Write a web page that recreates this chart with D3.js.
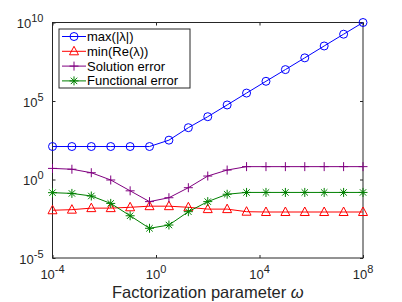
<!DOCTYPE html>
<html>
<head>
<meta charset="utf-8">
<script src="https://cdn.jsdelivr.net/npm/d3@7"></script>
<style>
body{margin:0;background:#fff;}
svg{font-family:"Liberation Sans",Arial,sans-serif;}
</style>
</head>
<body>
<div id="ChartPart"></div>
<script>
//Data--------------------------------------------------------------------------------------
var omega = [1e-4,5.62e-4,3.16e-3,1.78e-2,1e-1,5.62e-1,3.16,1.78e1,1e2,5.62e2,3.16e3,1.78e4,1e5,5.62e5,3.16e6,1.78e7,1e8];
var maxLambda = [1.26e2,1.26e2,1.26e2,1.26e2,1.26e2,1.26e2,3.2e2,2.0e3,1.0e4,5.6e4,3.2e5,1.8e6,1.0e7,5.6e7,3.2e8,1.8e9,1.0e10];
var minReLambda = [1.1e-2,1.2e-2,1.5e-2,1.5e-2,1.7e-2,2.0e-2,2.0e-2,1.7e-2,1.3e-2,1.3e-2,8.9e-3,8.5e-3,8.5e-3,8.5e-3,8.5e-3,8.5e-3,8.5e-3];
var solutionError = [5.1,4.5,2.7,0.93,0.19,3.9e-2,6.9e-2,0.30,1.66,4.0,6.6,6.6,6.6,6.6,6.6,6.6,6.6];
var functionalError = [0.145,0.13,0.089,0.030,4.9e-3,7.8e-4,1.26e-3,8.9e-3,3.9e-2,0.115,0.15,0.15,0.15,0.15,0.15,0.15,0.15];
var seriesNames = ["max(|\u03bb|)","min(Re(\u03bb))","Solution error","Functional error"];
var xTicks = [1e-4,1e0,1e4,1e8];
var yTicks = [1e-5,1e0,1e5,1e10];

var Width = 402, Height = 302;
var PlotLeft = 52.5, PlotRight = 363, PlotTop = 22.5, PlotBottom = 258;

var Series = [
	{name:seriesNames[0], values:maxLambda, color:"#0000ff", marker:"circle"},
	{name:seriesNames[1], values:minReLambda, color:"#ff0000", marker:"triangle"},
	{name:seriesNames[2], values:solutionError, color:"#800080", marker:"plus"},
	{name:seriesNames[3], values:functionalError, color:"#008000", marker:"star"}
];

var Svg = d3.select("#ChartPart")
	.append("svg")
	.attr("width",Width)
	.attr("height",Height);

var X = d3.scaleLog().domain([1e-4,1e8]).range([PlotLeft,PlotRight]);
var Y = d3.scaleLog().domain([1e-5,1e10]).range([PlotBottom,PlotTop]);

//write 10 with its exponent as a raised tspan
function PowerLabel(t,v)
{
	t.append("tspan").text("10");
	t.append("tspan").attr("dy","-6").style("font-size","11px").text(Math.round(Math.log10(v)));
}

//Axes box and ticks------------------------------------------------------------------------
function DrawAxes()
{
	var AxisColor = "#262626";
	Svg.append("rect")
		.attr("x",PlotLeft)
		.attr("y",PlotTop)
		.attr("width",PlotRight-PlotLeft)
		.attr("height",PlotBottom-PlotTop)
		.attr("fill","none")
		.attr("stroke",AxisColor)
		.attr("stroke-width",1);

	var axes = [
		{a:d3.axisBottom(X).tickValues(xTicks), t:"translate(0,"+PlotBottom+")"},
		{a:d3.axisTop(X).tickValues(xTicks), t:"translate(0,"+PlotTop+")"},
		{a:d3.axisLeft(Y).tickValues(yTicks), t:"translate("+PlotLeft+",0)"},
		{a:d3.axisRight(Y).tickValues(yTicks), t:"translate("+PlotRight+",0)"}
	];
	axes.forEach(function(d){
		var g = Svg.append("g")
			.attr("transform",d.t)
			.call(d.a.tickSizeInner(-3).tickSizeOuter(0).tickFormat(""));
		g.select(".domain").remove();
		g.selectAll("line").attr("stroke",AxisColor);
	});

	xTicks.forEach(function(v){
		var t = Svg.append("text")
			.attr("x",X(v))
			.attr("y",PlotBottom+21)
			.attr("text-anchor","middle")
			.style("font-size","13px")
			.attr("fill","#262626");
		PowerLabel(t,v);
	});
	yTicks.forEach(function(v){
		var t = Svg.append("text")
			.attr("x",PlotLeft-9)
			.attr("y",Y(v)+5.5)
			.attr("text-anchor","end")
			.style("font-size","13px")
			.attr("fill","#262626");
		PowerLabel(t,v);
	});

	var Label = Svg.append("text")
		.attr("x",(PlotLeft+PlotRight)/2)
		.attr("y",298)
		.attr("text-anchor","middle")
		.style("font-size","16.5px")
		.attr("fill","#262626");
	Label.append("tspan").text("Factorization parameter ");
	Label.append("tspan").style("font-style","italic").text("\u03c9");
}

//Markers-------------------------------------------------------------------------------------
function DrawMarker(g,type,cx,cy,color)
{
	if(type=="circle")
	{
		g.append("circle").attr("cx",cx).attr("cy",cy).attr("r",4)
			.attr("fill","none").attr("stroke",color).attr("stroke-width",1);
	}
	else if(type=="triangle")
	{
		g.append("path")
			.attr("d","M"+cx+","+(cy-5)+"L"+(cx+4.5)+","+(cy+3.5)+"L"+(cx-4.5)+","+(cy+3.5)+"Z")
			.attr("fill","none").attr("stroke",color).attr("stroke-width",1);
	}
	else if(type=="plus")
	{
		g.append("path")
			.attr("d","M"+(cx-4.5)+","+cy+"H"+(cx+4.5)+"M"+cx+","+(cy-4.5)+"V"+(cy+4.5))
			.attr("stroke",color).attr("stroke-width",1);
	}
	else
	{
		var r = 4.5, k = 3.2;
		g.append("path")
			.attr("d","M"+(cx-r)+","+cy+"H"+(cx+r)+"M"+cx+","+(cy-r)+"V"+(cy+r)
				+"M"+(cx-k)+","+(cy-k)+"L"+(cx+k)+","+(cy+k)+"M"+(cx-k)+","+(cy+k)+"L"+(cx+k)+","+(cy-k))
			.attr("stroke",color).attr("stroke-width",1);
	}
}

//Series lines--------------------------------------------------------------------------------
function DrawSeries()
{
	var Line = d3.line()
		.x(function(d,i){ return X(omega[i]); })
		.y(function(d){ return Y(d); });
	Series.forEach(function(s){
		var g = Svg.append("g");
		g.append("path")
			.attr("d",Line(s.values))
			.attr("fill","none")
			.attr("stroke",s.color)
			.attr("stroke-width",1);
		s.values.forEach(function(v,i){
			DrawMarker(g,s.marker,X(omega[i]),Y(v),s.color);
		});
	});
}

//Legend--------------------------------------------------------------------------------------
function DrawLegend()
{
	var Lx = 59, Ly = 29, Lw = 131, Lh = 59;
	Svg.append("rect")
		.attr("x",Lx).attr("y",Ly).attr("width",Lw).attr("height",Lh)
		.attr("fill","#fff").attr("stroke","#262626").attr("stroke-width",1);
	Series.forEach(function(s,i){
		var cy = Ly+7.5+i*14.8;
		var g = Svg.append("g");
		g.append("line").attr("x1",Lx+3).attr("x2",Lx+27).attr("y1",cy).attr("y2",cy)
			.attr("stroke",s.color).attr("stroke-width",1);
		DrawMarker(g,s.marker,Lx+15,cy,s.color);
		Svg.append("text")
			.attr("x",Lx+28)
			.attr("y",cy+4.5)
			.style("font-size","13px")
			.attr("fill","#000")
			.text(s.name);
	});
}

DrawAxes();
DrawSeries();
DrawLegend();
</script>
</body>
</html>
